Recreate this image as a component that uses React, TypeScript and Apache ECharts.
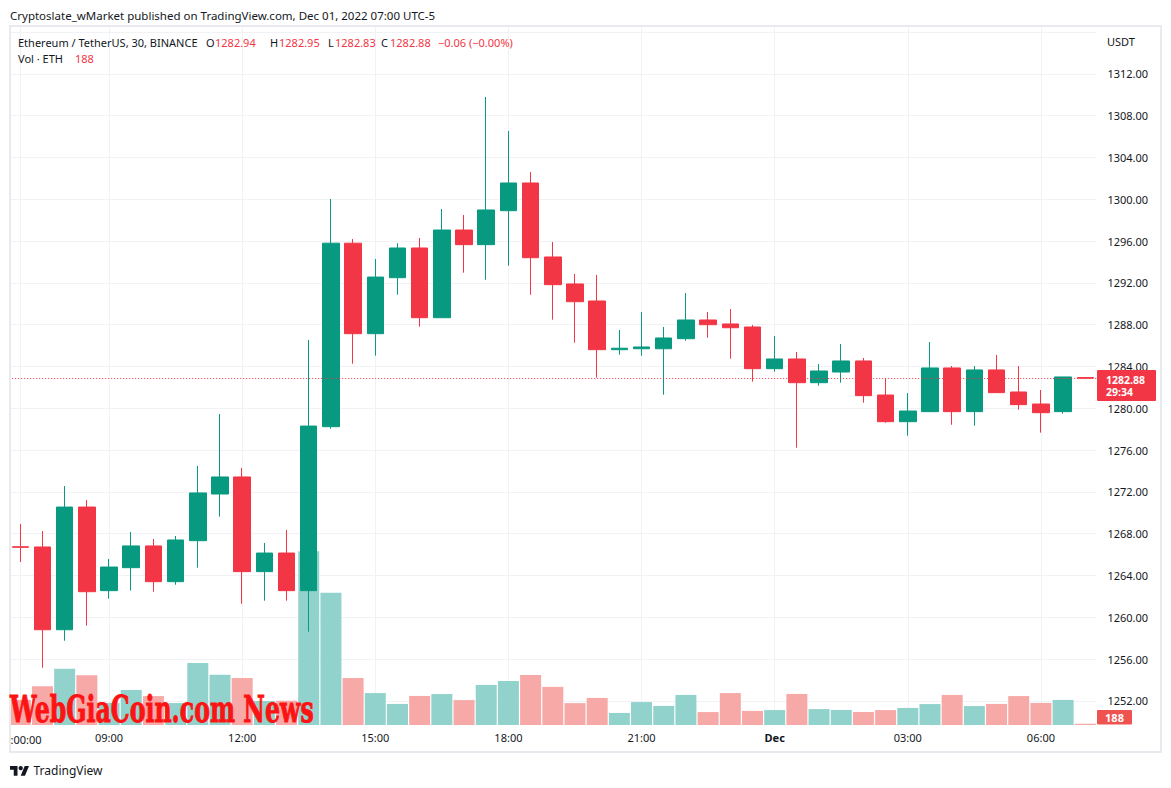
import React, { useEffect, useRef } from "react";
import * as echarts from "echarts";

// ---------- data ----------
const categories = [
  "Nov 30 07:00", "Nov 30 07:30", "Nov 30 08:00", "Nov 30 08:30", "Nov 30 09:00", "Nov 30 09:30",
  "Nov 30 10:00", "Nov 30 10:30", "Nov 30 11:00", "Nov 30 11:30", "Nov 30 12:00", "Nov 30 12:30",
  "Nov 30 13:00", "Nov 30 13:30", "Nov 30 14:00", "Nov 30 14:30", "Nov 30 15:00", "Nov 30 15:30",
  "Nov 30 16:00", "Nov 30 16:30", "Nov 30 17:00", "Nov 30 17:30", "Nov 30 18:00", "Nov 30 18:30",
  "Nov 30 19:00", "Nov 30 19:30", "Nov 30 20:00", "Nov 30 20:30", "Nov 30 21:00", "Nov 30 21:30",
  "Nov 30 22:00", "Nov 30 22:30", "Nov 30 23:00", "Nov 30 23:30", "Dec 01 00:00", "Dec 01 00:30",
  "Dec 01 01:00", "Dec 01 01:30", "Dec 01 02:00", "Dec 01 02:30", "Dec 01 03:00", "Dec 01 03:30",
  "Dec 01 04:00", "Dec 01 04:30", "Dec 01 05:00", "Dec 01 05:30", "Dec 01 06:00", "Dec 01 06:30",
  "Dec 01 07:00",
];

const opens = [
  1266.75, 1266.73, 1258.81, 1270.55, 1262.55, 1264.75, 1266.83, 1263.41, 1267.33, 1271.8,
  1273.43, 1264.37, 1266.15, 1262.55, 1278.24, 1295.8, 1287.14, 1292.5, 1295.34, 1288.67,
  1297.06, 1295.66, 1298.91, 1301.56, 1294.48, 1291.9, 1290.27, 1285.61, 1285.7, 1285.7,
  1286.66, 1288.45, 1288.07, 1287.78, 1283.79, 1284.72, 1282.45, 1283.47, 1284.53, 1281.27,
  1278.72, 1279.68, 1283.86, 1279.68, 1283.67, 1281.56, 1280.41, 1279.68, 1282.94,
];
const closes = [
  1266.7, 1258.81, 1270.55, 1262.45, 1264.81, 1266.83, 1263.41, 1267.4, 1271.9, 1273.43,
  1264.37, 1266.15, 1262.55, 1278.3, 1295.8, 1287.14, 1292.56, 1295.34, 1288.67, 1297.06,
  1295.66, 1298.98, 1301.56, 1294.41, 1291.83, 1290.2, 1285.61, 1285.75, 1285.87, 1286.73,
  1288.45, 1288.0, 1287.71, 1283.79, 1284.72, 1282.45, 1283.57, 1284.53, 1281.21, 1278.72,
  1279.74, 1283.86, 1279.68, 1283.67, 1281.5, 1280.35, 1279.58, 1283.0, 1282.88,
];
const lows = [
  1265.29, 1255.18, 1257.76, 1259.2, 1261.78, 1262.55, 1262.45, 1263.12, 1264.75, 1269.63,
  1261.3, 1261.59, 1261.59, 1258.62, 1278.05, 1284.27, 1285.04, 1290.87, 1287.81, 1288.67,
  1292.98, 1292.3, 1293.65, 1290.87, 1288.48, 1286.28, 1282.93, 1285.13, 1285.04, 1281.3,
  1286.47, 1286.76, 1284.75, 1282.55, 1283.5, 1276.23, 1282.16, 1282.45, 1280.54, 1278.62,
  1277.38, 1279.68, 1278.43, 1278.33, 1281.5, 1279.87, 1277.67, 1279.48, 1282.83,
];
const highs = [
  1268.93, 1268.26, 1272.56, 1271.22, 1265.58, 1268.16, 1267.49, 1267.78, 1274.48, 1279.45,
  1274.29, 1267.11, 1268.35, 1286.54, 1300.03, 1296.2, 1294.29, 1295.8, 1296.3, 1299.07,
  1298.5, 1309.79, 1306.54, 1302.61, 1295.91, 1292.85, 1292.76, 1287.49, 1289.22, 1287.78,
  1291.03, 1289.22, 1289.5, 1287.97, 1286.92, 1285.39, 1284.24, 1286.15, 1284.81, 1282.87,
  1281.46, 1286.34, 1284.05, 1284.05, 1285.1, 1284.05, 1281.75, 1283.0, 1282.95,
];
const volumes = [
  3760, 5830, 8420, 7480, 3310, 5260, 4340, 3290, 9310, 7520,
  7060, 3590, 3640, 26080, 19820, 7040, 4790, 3160, 4360, 4640,
  3740, 6010, 6590, 7490, 5720, 3280, 4060, 1810, 3440, 2860,
  4510, 1940, 4790, 2110, 2240, 4660, 2390, 2260, 1950, 2240,
  2560, 3140, 4510, 2840, 3160, 4340, 3310, 3760, 188,
];

const gridLineIndices = [0, 4, 10, 16, 22, 28, 34, 40, 46];
const timeTickIndices = [4, 10, 16, 22, 28, 34, 40, 46];
const timeTickLabels = ["09:00", "12:00", "15:00", "18:00", "21:00", "Dec", "03:00", "06:00"];

const priceMin = 1248;
const priceMax = 1316;
const priceInterval = 4;
const volumeMax = 104850;

const lastOpen = 1282.94;
const lastHigh = 1282.95;
const lastLow = 1282.83;
const lastClose = 1282.88;
const lastChange = "\u22120.06 (\u22120.00%)";
const lastVolume = 188;
const countdown = "29:34";

// ---------- styles ----------
const FONT = "Noto Sans";
const TEXT = "#131722";
const UP = "#089981";
const DOWN = "#F23645";
const UP_VOL = "#92d2cc";
const DOWN_VOL = "#f7a9a7";
const GRID = "#f0f2f6";

echarts.graphic.registerShape(
  "tvlogo",
  echarts.graphic.extendPath("M14 22H7V11H0V4h14v18zM28 22h-8l7.5-18h8L28 22z", {})
);

function txt(
  text: string,
  x: number,
  y: number,
  fill: string,
  size = 11.5,
  weight: string = "normal",
  align: string = "left",
  family: string = FONT
) {
  return {
    type: "text",
    x,
    y,
    z: 100,
    silent: true,
    style: {
      text,
      fill,
      fontSize: size,
      fontFamily: family,
      fontWeight: weight,
      lineHeight: size,
      align,
      verticalAlign: "middle",
    },
  };
}

export default function App() {
  const ref = useRef<HTMLDivElement>(null);

  useEffect(() => {
    if (!ref.current) return;
    const chart = echarts.init(ref.current, undefined, { renderer: "svg" });

    const candleData = opens.map((o, i) => [o, closes[i], lows[i], highs[i]]);
    const volumeData = volumes.map((v, i) => ({
      value: v,
      itemStyle: { color: closes[i] >= opens[i] ? UP_VOL : DOWN_VOL },
    }));

    const watermark: any = txt("WebGiaCoin.com News", 10, 708.6, "#fc1414", 37, "bold", "left", "DejaVu Serif");
    watermark.scaleX = 0.64;
    watermark.z = 120;
    watermark.style.stroke = "#fc1414";
    watermark.style.lineWidth = 1;

    const option: any = {
      animation: false,
      backgroundColor: "#ffffff",
      grid: [
        { left: 9.2, right: 74.6, top: 32.1, bottom: 45.3 },
        { left: 9.2, right: 74.6, top: 26, bottom: 63 },
      ],
      xAxis: [
        {
          type: "category",
          gridIndex: 0,
          data: categories,
          show: false,
        },
        {
          type: "category",
          gridIndex: 1,
          data: categories,
          axisLine: { show: false },
          axisTick: { show: false },
          axisLabel: {
            interval: (i: number) => timeTickIndices.includes(i),
            formatter: (_v: string, i: number) => {
              const k = timeTickIndices.indexOf(i);
              if (k < 0) return "";
              const l = timeTickLabels[k];
              return l === "Dec" ? "{b|Dec}" : l;
            },
            color: TEXT,
            fontSize: 11,
            fontFamily: FONT,
            margin: 7,
            rich: { b: { fontWeight: "bold", color: TEXT, fontSize: 11, fontFamily: FONT } },
          },
          splitLine: {
            show: true,
            interval: (i: number) => gridLineIndices.includes(i),
            alignWithLabel: true,
            lineStyle: { color: GRID, width: 1 },
          },
        },
      ],
      yAxis: [
        {
          type: "value",
          gridIndex: 0,
          position: "right",
          min: priceMin,
          max: priceMax,
          interval: priceInterval,
          axisLine: { show: false },
          axisTick: { show: false },
          axisLabel: {
            color: TEXT,
            fontSize: 11,
            fontFamily: FONT,
            margin: 11,
            showMinLabel: false,
            showMaxLabel: false,
            formatter: (v: number) => v.toFixed(2),
          },
          splitLine: {
            show: true,
            showMinLine: false,
            showMaxLine: true,
            lineStyle: { color: GRID, width: 1 },
          },
        },
        {
          type: "value",
          gridIndex: 1,
          min: 0,
          max: volumeMax,
          show: false,
          splitLine: { show: false },
        },
      ],
      series: [
        {
          type: "bar",
          name: "Vol",
          xAxisIndex: 1,
          yAxisIndex: 1,
          data: volumeData,
          barWidth: 21,
          z: 1,
          silent: true,
        },
        {
          type: "candlestick",
          name: "ETHUSDT",
          xAxisIndex: 0,
          yAxisIndex: 0,
          data: candleData,
          barWidth: 17,
          z: 3,
          itemStyle: {
            color: UP,
            color0: DOWN,
            borderColor: UP,
            borderColor0: DOWN,
            borderWidth: 1,
          },
          markLine: {
            silent: true,
            symbol: ["none", "none"],
            label: { show: false },
            lineStyle: { color: DOWN, type: [1, 2], width: 1 },
            data: [{ yAxis: lastClose }],
          },
        },
      ],
      graphic: [
        // frame
        {
          type: "rect",
          z: 90,
          silent: true,
          shape: { x: 10, y: 26, width: 1151, height: 726 },
          style: { fill: "none", stroke: "#e9eaf0", lineWidth: 2 },
        },
        txt("Cryptoslate_wMarket published on TradingView.com, Dec 01, 2022 07:00 UTC-5", 10, 15, TEXT),
        txt("Ethereum / TetherUS, 30, BINANCE", 18, 42, TEXT, 11),
        txt("O", 206, 42, TEXT, 11),
        txt(lastOpen.toFixed(2), 215, 42, DOWN, 11),
        txt("H", 270, 42, TEXT, 11),
        txt(lastHigh.toFixed(2), 279, 42, DOWN, 11),
        txt("L", 328, 42, TEXT, 11),
        txt(lastLow.toFixed(2), 335, 42, DOWN, 11),
        txt("C", 381, 42, TEXT, 11),
        txt(lastClose.toFixed(2), 390, 42, DOWN, 11),
        txt(lastChange, 438, 42, DOWN, 11),
        txt("Vol \u00b7 ETH", 18, 58.5, TEXT, 11),
        txt(String(lastVolume), 75, 58.5, DOWN, 11),
        txt("USDT", 1107, 41, TEXT, 11),
        // last price tag
        {
          type: "rect",
          z: 100,
          silent: true,
          shape: { x: 1097, y: 370, width: 59, height: 31, r: 1 },
          style: { fill: DOWN },
        },
        txt(lastClose.toFixed(2), 1106, 379.7, "#ffffff", 10.5, "bold"),
        txt(countdown, 1106, 392.4, "#ffffff", 10.5, "bold"),
        // last volume tag
        {
          type: "rect",
          z: 100,
          silent: true,
          shape: { x: 1097, y: 710, width: 35, height: 14.5, r: 1 },
          style: { fill: "#ef5350" },
        },
        txt(String(lastVolume), 1114.5, 717.3, "#ffffff", 11, "bold", "center"),
        // truncated first time label
        txt(":00:00", 10.5, 739, TEXT, 11),
        watermark,
        // TradingView logo
        {
          type: "tvlogo",
          x: 10,
          y: 763.9,
          scaleX: 0.535,
          scaleY: 0.535,
          z: 100,
          silent: true,
          style: { fill: TEXT },
        },
        {
          type: "circle",
          z: 100,
          silent: true,
          shape: { cx: 20.7, cy: 768.2, r: 2.14 },
          style: { fill: TEXT },
        },
        txt("TradingView", 33.5, 770.5, TEXT, 12),
      ],
    };

    chart.setOption(option);
    return () => chart.dispose();
  }, []);

  return (
    <div
      ref={ref}
      style={{ position: "fixed", left: 0, top: 0, width: 1171, height: 788, background: "#fff" }}
    />
  );
}
